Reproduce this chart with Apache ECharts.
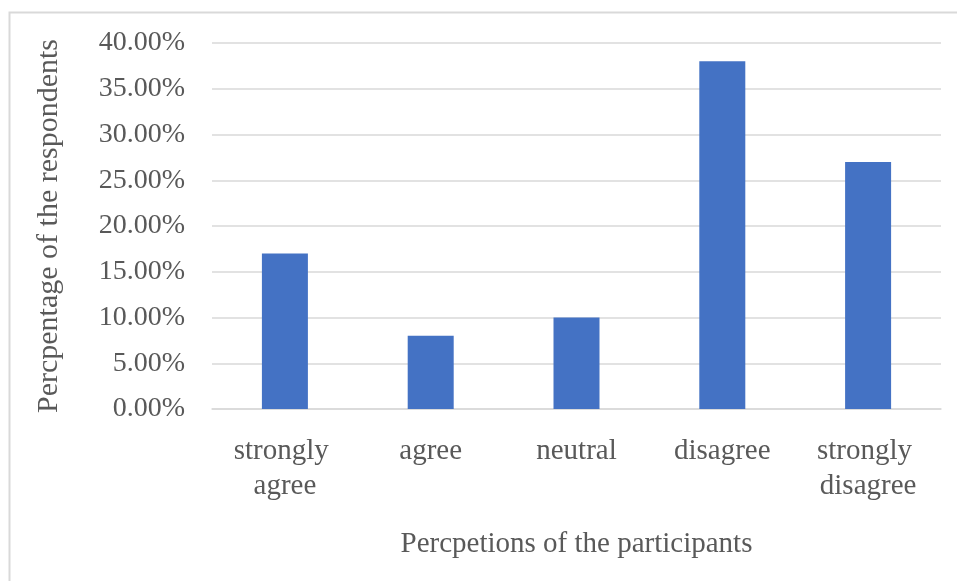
<!DOCTYPE html>
<html>
<head>
<meta charset="utf-8">
<script src="https://cdn.jsdelivr.net/npm/echarts@6/dist/echarts.min.js"></script>
<style>
html,body{margin:0;padding:0;background:#fff;}
#chart{width:957px;height:581px;}
</style>
</head>
<body>
<div id="chart"></div>
<script>
const categories = ["strongly agree", "agree", "neutral", "disagree", "strongly disagree"];
const percentages = [0.17, 0.08, 0.10, 0.38, 0.27];
const yTicks = { min: 0, max: 0.40, interval: 0.05 };
const xTitle = "Percpetions of the participants";
const yTitle = "Percpentage of the respondents";

const chart = echarts.init(document.getElementById('chart'), null, {renderer: 'canvas'});
const font = "'Liberation Serif', 'Times New Roman', serif";
const txt = '#595959';
chart.setOption({
  animation: false,
  backgroundColor: '#ffffff',
  graphic: [{
    type: 'rect',
    shape: {x: 9.5, y: 12.5, width: 1000, height: 1000},
    style: {fill: 'none', stroke: '#d9d9d9', lineWidth: 2},
    silent: true, z: -10
  }],
  grid: {left: 212, right: 16, top: 43, bottom: 172, containLabel: false},
  xAxis: {
    type: 'category',
    data: categories,
    name: xTitle,
    nameLocation: 'middle',
    nameGap: 121,
    nameTextStyle: {fontFamily: font, fontSize: 29, color: txt},
    axisLine: {show: true, lineStyle: {color: '#d9d9d9', width: 1.5}},
    axisTick: {show: false},
    axisLabel: {
      fontFamily: font, fontSize: 29, color: txt, margin: 25,
      lineHeight: 35, interval: 0,
      width: 124, overflow: 'break'
    }
  },
  yAxis: {
    type: 'value',
    min: yTicks.min, max: yTicks.max, interval: yTicks.interval,
    name: yTitle,
    nameLocation: 'middle',
    nameGap: 148,
    nameTextStyle: {fontFamily: font, fontSize: 30, color: txt},
    axisLine: {show: false},
    axisTick: {show: false},
    splitLine: {lineStyle: {color: '#d9d9d9', width: 1.5}},
    axisLabel: {
      fontFamily: font, fontSize: 28, color: txt, margin: 27,
      formatter: v => (v * 100).toFixed(2) + '%'
    }
  },
  series: [{
    type: 'bar',
    data: percentages,
    barWidth: 46,
    itemStyle: {color: '#4472c4'}
  }]
});
</script>
</body>
</html>
